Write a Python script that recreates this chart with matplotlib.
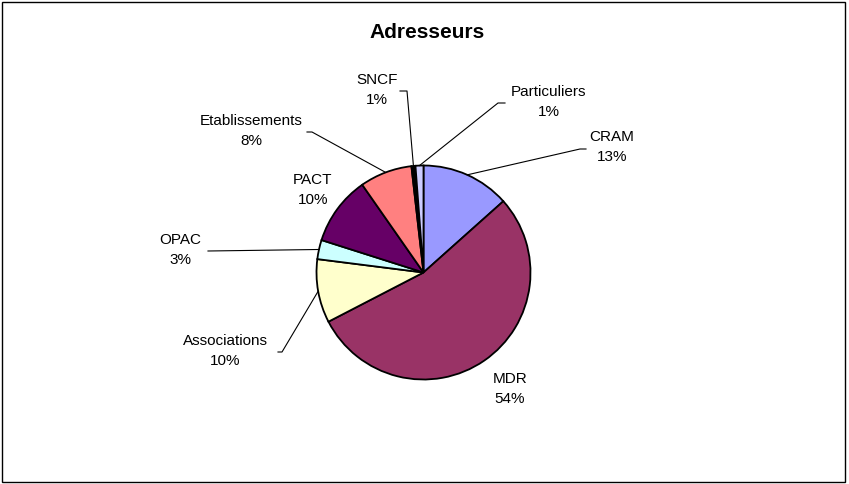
import matplotlib
matplotlib.use("Agg")
import matplotlib.pyplot as plt
from matplotlib.patches import Rectangle
import numpy as np

# data (clockwise from 12 o'clock)
labels = ["CRAM", "MDR", "Associations", "OPAC", "PACT",
          "Etablissements", "SNCF", "Particuliers"]
values = [13.4, 54.0, 9.6, 2.9, 10.4, 7.9, 0.6, 1.2]
colors = ["#9999FF", "#993366", "#FFFFCC", "#CCFFFF", "#660066",
          "#FF8080", "#000000", "#CCCCFF"]

# layout, in reference pixels (x right, y down)
W, H = 849, 484
CX, CY, R = 423.5, 272.5, 107.0
label_pos = {
    "CRAM": (612, 147),
    "MDR": (510, 389),
    "Associations": (225, 351),
    "OPAC": (180, 250),
    "PACT": (313, 190),
    "Etablissements": (251, 131),
    "SNCF": (377, 90),
    "Particuliers": (549, 102),
}
# leader line points near the text (end, knee)
leaders = {
    "CRAM": [(586, 149), (580, 149)],
    "Associations": [(278, 352), (282, 352)],
    "OPAC": [(208, 251)],
    "Etablissements": [(307, 132), (312, 132)],
    "SNCF": [(400, 91), (407, 91)],
    "Particuliers": [(505, 103), (498, 103)],
}


def px(x, y):
    return (x - CX) / R, (CY - y) / R


plt.rcParams['font.family'] = ['Liberation Sans', 'DejaVu Sans']

fig = plt.figure(figsize=(W / 100, H / 100), dpi=100)
fig.patch.set_facecolor("white")

ax = fig.add_axes([(CX - R) / W, (H - CY - R) / H, 2 * R / W, 2 * R / H])
wedges, _ = ax.pie(values, colors=colors, startangle=90, counterclock=False,
                   wedgeprops=dict(edgecolor="black", linewidth=1.3))
ax.set_xlim(-1, 1)
ax.set_ylim(-1, 1)
ax.axis("off")

for w, lab, v in zip(wedges, labels, values):
    tx, ty = px(*label_pos[lab])
    ax.text(tx, ty, f"{lab}\n{round(v)}%", ha="center", va="center",
            fontsize=11, linespacing=1.55, clip_on=False)
    if lab in leaders:
        mid = np.deg2rad((w.theta1 + w.theta2) / 2)
        pts = [px(*p) for p in leaders[lab]] + [(np.cos(mid), np.sin(mid))]
        xs, ys = zip(*pts)
        ax.plot(xs, ys, color="black", lw=0.8, clip_on=False)

fig.text(427 / W, 1 - 32 / H, "Adresseurs", ha="center", va="center",
         fontsize=15, fontweight="bold")

fig.add_artist(Rectangle((2 / W, 2 / H), 843 / W, 480 / H, transform=fig.transFigure,
                         fill=False, edgecolor="black", lw=1.0))

fig.savefig("out.png", dpi=100)
